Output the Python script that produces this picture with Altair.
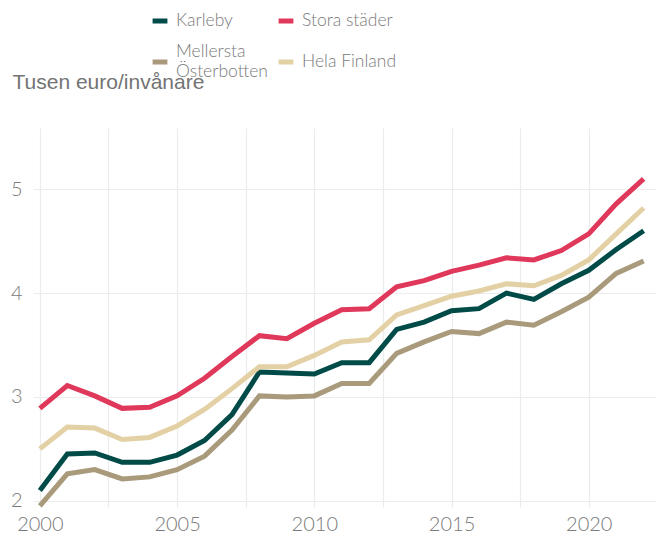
import altair as alt
import pandas as pd

years = list(range(2000, 2023))
karleby = [2.10, 2.45, 2.46, 2.37, 2.37, 2.44, 2.58, 2.83, 3.24, 3.23, 3.22, 3.33, 3.33, 3.65, 3.72, 3.83, 3.85, 4.00, 3.94, 4.09, 4.22, 4.42, 4.60]
stora = [2.89, 3.11, 3.01, 2.89, 2.90, 3.01, 3.18, 3.39, 3.59, 3.56, 3.71, 3.84, 3.85, 4.06, 4.12, 4.21, 4.27, 4.34, 4.32, 4.41, 4.57, 4.86, 5.10]
mellersta = [1.95, 2.26, 2.30, 2.21, 2.23, 2.30, 2.43, 2.68, 3.01, 3.00, 3.01, 3.13, 3.13, 3.42, 3.53, 3.63, 3.61, 3.72, 3.69, 3.82, 3.96, 4.19, 4.31]
hela = [2.50, 2.71, 2.70, 2.59, 2.61, 2.72, 2.88, 3.08, 3.29, 3.29, 3.40, 3.53, 3.55, 3.79, 3.88, 3.97, 4.02, 4.09, 4.07, 4.17, 4.32, 4.57, 4.82]

series = ["Karleby", "Mellersta Österbotten", "Stora städer", "Hela Finland"]
colors = ["#004B48", "#A89A7B", "#E0385A", "#E3D1A5"]
values = [karleby, mellersta, stora, hela]

rows = []
for name, vals in zip(series, values):
    for y, v in zip(years, vals):
        rows.append({"year": y, "value": v, "serie": name})
df = pd.DataFrame(rows)

grey = "#7a7a7a"
font = "Lato"

chart = alt.Chart(df).mark_line(strokeWidth=5).encode(
    x=alt.X("year:Q",
            scale=alt.Scale(domain=[1999.75, 2022.45], nice=False, zero=False),
            axis=alt.Axis(values=[2000, 2002.5, 2005, 2007.5, 2010, 2012.5, 2015, 2017.5, 2020],
                          labelExpr="datum.value % 5 === 0 ? format(datum.value, 'd') : ''",
                          title=None, domain=False, ticks=False, labelPadding=7,
                          labelFontSize=20, labelColor=grey, labelFont=font,
                          labelFontWeight=300,
                          grid=True, gridColor="#ECECEC", gridWidth=1.2)),
    y=alt.Y("value:Q",
            scale=alt.Scale(domain=[1.94, 5.59], nice=False, zero=False),
            axis=alt.Axis(values=[2, 3, 4, 5], title="Tusen euro/invånare",
                          titleAngle=0, titleAlign="left", titleBaseline="middle",
                          titleX=-21, titleY=-46, titleFont="Liberation Sans",
                          titleFontSize=21, titleFontWeight=400, titleColor="#737373",
                          domain=False, ticks=False, labelPadding=11,
                          labelFontSize=20, labelColor=grey, labelFont=font,
                          labelFontWeight=300,
                          grid=True, gridColor="#ECECEC", gridWidth=1.2)),
    color=alt.Color("serie:N",
                    scale=alt.Scale(domain=series, range=colors),
                    sort=series,
                    legend=alt.Legend(title=None, orient="none", legendX=117, legendY=-117,
                                      columns=2, symbolType="stroke", symbolStrokeWidth=5,
                                      symbolSize=220, labelFontSize=17.5, labelFont=font,
                                      labelFontWeight=300, labelColor=grey,
                                      columnPadding=0, rowPadding=12, labelOffset=6,
                                      labelBaseline={"expr": "datum.value == 'Mellersta Österbotten' ? 'line-bottom' : 'middle'"},
                                      labelExpr="datum.label == 'Mellersta Österbotten' ? ['Mellersta', 'Österbotten'] : datum.label")),
    order=alt.Order("ord:Q"),
).transform_calculate(
    ord="datum.serie == 'Karleby' ? 3 : datum.serie == 'Stora städer' ? 4 : datum.serie == 'Hela Finland' ? 2 : 1"
).properties(
    width=623, height=379,
    autosize=alt.AutoSizeParams(type="none"),
    padding={"left": 25, "top": 120, "right": 0, "bottom": 30},
).configure_view(stroke=None)

chart.save("out.html", embed_options={"renderer": "svg", "actions": False})
